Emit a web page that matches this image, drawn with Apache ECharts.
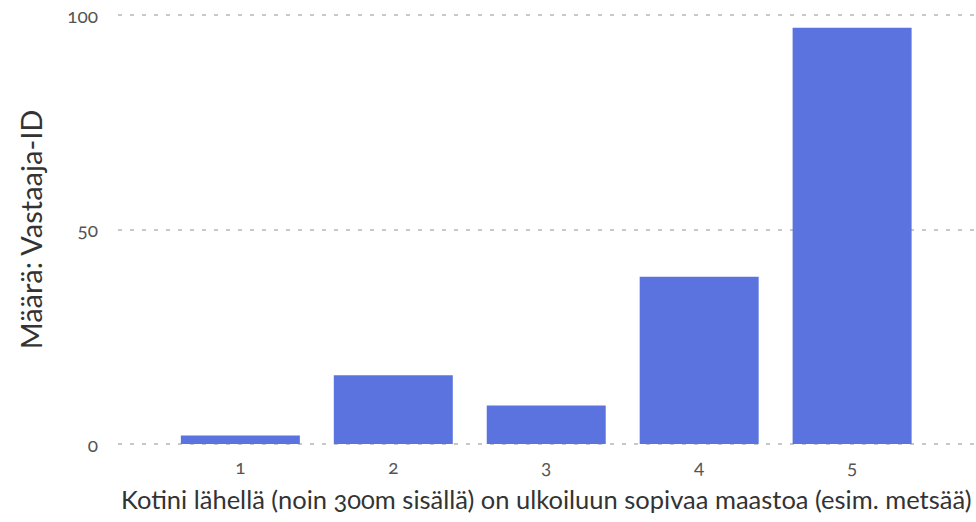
<!DOCTYPE html>
<html>
<head>
<meta charset="utf-8">
<script src="https://cdn.jsdelivr.net/npm/echarts@6/dist/echarts.min.js"></script>
<style>
html,body{margin:0;padding:0;background:#fff;}
#c{width:976px;height:522px;font-feature-settings:"onum" 1;}
#c text{font-feature-settings:"onum" 1;}
</style>
</head>
<body>
<div id="c"></div>
<script>
var categories = ['1', '2', '3', '4', '5'];
var counts = [2, 16, 9, 39, 97];
var yTicks = [0, 50, 100];
var xTitle = 'Kotini lähellä (noin 300m sisällä) on ulkoiluun sopivaa maastoa (esim. metsää)';
var yTitle = 'Määrä: Vastaaja-ID';

var font = 'Lato, "Open Sans", sans-serif';
var chart = echarts.init(document.getElementById('c'), null, {renderer: 'svg'});
chart.setOption({
  animation: false,
  grid: {left: 118, right: 1, top: 15, bottom: 78},
  xAxis: {
    type: 'value',
    min: 0.2,
    max: 5.8,
    name: xTitle,
    nameLocation: 'middle',
    nameGap: 42,
    nameTextStyle: {fontFamily: font, fontSize: 25.5, color: '#333'},
    axisLine: {show: false},
    axisTick: {show: false},
    splitLine: {show: false},
    axisLabel: {
      customValues: categories.map(Number),
      formatter: function (v) { return String(Math.round(v)); },
      fontFamily: font, fontSize: 19, color: '#555', margin: 13
    }
  },
  yAxis: {
    type: 'value',
    min: 0,
    max: 100,
    interval: 50,
    name: yTitle,
    nameLocation: 'middle',
    nameGap: 73,
    nameTextStyle: {fontFamily: font, fontSize: 29, color: '#333'},
    axisLine: {show: false},
    axisTick: {show: false},
    axisLabel: {fontFamily: font, fontSize: 19, color: '#555', margin: 20},
    splitLine: {show: true, lineStyle: {color: '#c8c8c8', width: 2, type: [4, 8]}}
  },
  series: [{
    type: 'bar',
    barWidth: 119,
    itemStyle: {color: '#5b73df'},
    data: categories.map(function (c, i) { return [Number(c), counts[i]]; })
  }]
});
</script>
</body>
</html>
